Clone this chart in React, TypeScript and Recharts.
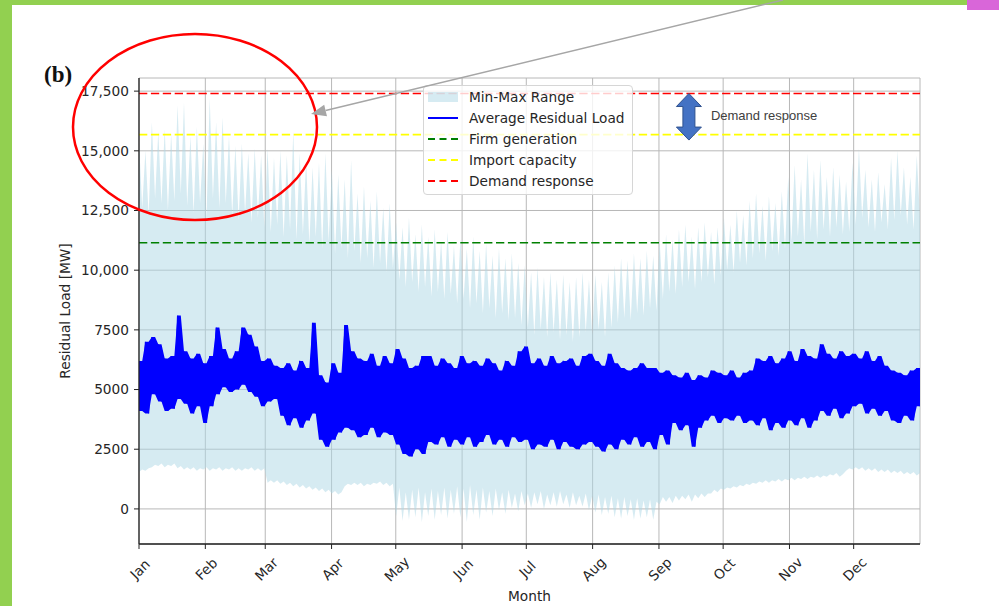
import React from 'react';
import {
  ComposedChart,
  Area,
  Line,
  XAxis,
  YAxis,
  CartesianGrid,
  ReferenceLine,
  Legend,
} from 'recharts';

// ---------- categories / ticks ----------
const MONTHS = ['Jan', 'Feb', 'Mar', 'Apr', 'May', 'Jun', 'Jul', 'Aug', 'Sep', 'Oct', 'Nov', 'Dec'];
const MONTH_START_DAYS = [0, 31, 59, 90, 120, 151, 181, 212, 243, 273, 304, 334];
const YEAR_DAYS = 365;
const Y_TICKS = [0, 2500, 5000, 7500, 10000, 12500, 15000, 17500];
const Y_TICK_LABELS = ['0', '2500', '5000', '7500', '10,000', '12,500', '15,000', '17,500'];
const Y_DOMAIN = [-1470, 18050];

// ---------- horizontal levels (MW) ----------
const FIRM_GENERATION = 11150;
const IMPORT_CAPACITY = 15680;
const DEMAND_RESPONSE = 17400;

// Demand response annotation arrow (day of year, MW)
const DR_ARROW_DAY = 257;
const DR_ARROW_TOP = 17400;
const DR_ARROW_BOTTOM = 15450;

// ---------- series, 3-day slots (122 slots) ----------
// upper envelope of the max series (spike tops)
const MAX_PEAK = [
  15400, 15000, 16200, 15800, 15900, 15700, 16900, 17000, 15600, 16000,
  15300, 17200, 16200, 16400, 15600, 15200, 15300, 14900, 15100, 14800,
  15100, 14700, 15000, 14800, 15800, 14900, 14600, 14300, 14500, 14900,
  14200, 14000, 13800, 14600, 13200, 13500, 12900, 13300, 12600, 12800,
  12000, 11800, 12200, 11500, 11900, 11400, 11700, 11200, 11600, 11000,
  11300, 10900, 11400, 10800, 11100, 10600, 10900, 10500, 10700, 10300,
  10200, 9900, 10100, 9700, 9900, 9600, 9800, 9500, 9700, 9900,
  9600, 9800, 9500, 9900, 10200, 10500, 10400, 10700, 10500, 10800,
  10600, 11200, 11500, 11300, 11700, 11900, 11400, 11800, 12000, 11600,
  11800, 12200, 11900, 12500, 12300, 12900, 13200, 12700, 13100, 12800,
  13300, 13900, 14400, 13800, 14900, 14200, 14600, 13900, 14300, 14000,
  13700, 14500, 15100, 14200, 13800, 14100, 13600, 14700, 15000, 14300,
  13900, 14800,
];
// lower (solid) level of the max series
const MAX_BASE = [
  12600, 12300, 13000, 12800, 12500, 12900, 13200, 12700, 12400, 12800,
  12200, 13000, 12600, 12800, 12300, 12100, 12400, 12000, 12200, 11800,
  11600, 11900, 11400, 11700, 11300, 11500, 11100, 11400, 10900, 11200,
  10700, 10900, 10500, 10800, 10300, 10500, 10100, 10300, 9900, 10100,
  9600, 9300, 9500, 9100, 9300, 8900, 9100, 8800, 9000, 8600,
  8800, 8400, 8600, 8200, 8400, 8000, 8200, 7900, 8000, 7700,
  7600, 7300, 7500, 7200, 7400, 7100, 7300, 7000, 7200, 7400,
  7300, 7500, 7200, 7600, 7800, 8000, 7900, 8200, 8100, 8400,
  8300, 8800, 9100, 9000, 9300, 9500, 9200, 9500, 9700, 9400,
  9800, 10000, 9900, 10300, 10200, 10500, 10700, 10400, 10800, 10600,
  10900, 11200, 11400, 11100, 11600, 11300, 11700, 11400, 11800, 11500,
  11600, 11900, 12200, 11800, 11600, 12000, 11700, 12100, 12300, 11900,
  11700, 12200,
];
// upper (solid) level of the min series
const MIN_MAIN = [
  1650, 1700, 1850, 1900, 1850, 1900, 1800, 1750, 1750, 1700,
  1750, 1700, 1750, 1700, 1750, 1700, 1700, 1750, 1700, 1700,
  1200, 1200, 1150, 1100, 1050, 1000, 950, 900, 850, 800,
  750, 700, 1050, 1100, 1100, 1050, 1100, 1150, 1100, 1050,
  900, 700, 800, 900, 700, 850, 750, 900, 800, 950,
  850, 1000, 800, 900, 750, 850, 700, 800, 650, 750,
  650, 700, 750, 600, 700, 750, 600, 700, 550, 650,
  550, 600, 500, 550, 450, 500, 400, 450, 350, 400,
  300, 500, 500, 550, 550, 600, 600, 650, 650, 800,
  850, 900, 950, 1000, 1050, 1100, 1150, 1200, 1200, 1250,
  1250, 1300, 1300, 1350, 1350, 1400, 1400, 1450, 1500, 1450,
  1700, 1750, 1750, 1700, 1700, 1650, 1650, 1600, 1600, 1550,
  1550, 1500,
];
// downward dips of the min series
const MIN_DIP = [
  1550, 1600, 1750, 1800, 1750, 1800, 1700, 1650, 1650, 1600,
  1650, 1600, 1650, 1600, 1650, 1600, 1600, 1650, 1600, 1600,
  1100, 1100, 1050, 1000, 950, 900, 850, 800, 750, 700,
  650, 600, 950, 1000, 1000, 950, 1000, 1050, 1000, 950,
  -300, -500, -450, -350, -550, -300, -450, -250, -400, -200,
  -350, -550, -250, -450, -150, -300, -50, -200, 50, -100,
  150, 50, 200, 0, 150, 100, 200, 50, 150, 100,
  -50, -150, -250, -200, -350, -400, -300, -450, -400, -350,
  -450, 200, 300, 250, 350, 400, 300, 450, 500, 650,
  700, 800, 850, 900, 950, 1000, 1050, 1100, 1100, 1150,
  1150, 1200, 1200, 1250, 1250, 1300, 1300, 1350, 1400, 1350,
  1600, 1650, 1650, 1600, 1600, 1550, 1550, 1500, 1500, 1450,
  1450, 1400,
];
// average residual load: highs and lows within each slot
const AVG_HI = [
  6200, 7000, 7200, 6900, 6300, 6400, 8100, 6600, 6300, 6500,
  6100, 6400, 7600, 6700, 6300, 6600, 7600, 7300, 6800, 6200,
  6300, 6000, 5900, 6100, 5800, 6200, 5900, 7800, 5600, 5300,
  6100, 5700, 7700, 6600, 6300, 6200, 6500, 6000, 6400, 6100,
  6700, 6300, 5900, 6000, 6400, 6400, 6000, 6300, 6100, 5900,
  6400, 6100, 6200, 6000, 6300, 6100, 5800, 6200, 6000, 6600,
  6800, 6100, 6300, 6000, 6400, 6100, 6200, 6300, 6000, 6400,
  6500, 6200, 6000, 6500, 6100, 5900, 5800, 5900, 6100, 5900,
  5900, 5700, 5800, 5600, 5500, 5700, 5400, 5600, 5500, 5800,
  5700, 5600, 5800, 5500, 5700, 5800, 6300, 6200, 6400, 6100,
  6300, 6600, 6200, 6700, 6400, 6300, 6900, 6500, 6300, 6600,
  6400, 6500, 6300, 6600, 6200, 6400, 6000, 5800, 5700, 5600,
  5800, 5900,
];
const AVG_LO = [
  4100, 4000, 4800, 4500, 4100, 4200, 4600, 4400, 4000, 4300,
  3600, 4300, 4800, 5100, 4900, 5000, 5200, 4900, 4700, 4300,
  4500, 4600, 3900, 3500, 3800, 3400, 3700, 4000, 2900, 2600,
  2900, 3200, 3400, 3300, 3000, 3100, 3400, 3000, 3200, 3100,
  2700, 2300, 2200, 2500, 2300, 2800, 2700, 3000, 2600, 2900,
  2700, 3000, 2600, 2800, 3100, 2700, 2900, 2600, 3000, 2800,
  2900, 2500, 2700, 2600, 2900, 2500, 2800, 2600, 2500, 2700,
  2800, 2600, 2400, 2700, 2500, 2900, 2700, 3000, 2600, 2800,
  2500, 3100, 2700, 3600, 3300, 3500, 2600, 3400, 3700, 3900,
  3600, 3800, 3700, 3900, 3600, 3700, 3500, 3800, 3300, 3600,
  3400, 3700, 3500, 3800, 3400, 3700, 4100, 3900, 4200, 3800,
  4000, 4300, 4400, 4000, 4200, 3900, 4100, 3700, 3600, 3900,
  3700, 4300,
];

// ---------- legend entries ----------
const LEGEND_ITEMS = [
  { label: 'Min-Max Range', kind: 'patch', color: '#add8e6' },
  { label: 'Average Residual Load', kind: 'line', color: '#0000ff' },
  { label: 'Firm generation', kind: 'dash', color: '#008000' },
  { label: 'Import capacity', kind: 'dash', color: '#ffff00' },
  { label: 'Demand response', kind: 'dash', color: '#ff0000' },
];

// ---------- table built from the arrays ----------
const TOTAL_POINTS = MAX_PEAK.length * 2;
const data: any[] = [];
for (let i = 0; i < MAX_PEAK.length; i++) {
  data.push({
    day: ((2 * i) * YEAR_DAYS) / (TOTAL_POINTS - 1),
    range: [MIN_DIP[i], MAX_PEAK[i]],
    avgBand: [AVG_LO[i], AVG_HI[i]],
    avg: AVG_HI[i],
  });
  data.push({
    day: ((2 * i + 1) * YEAR_DAYS) / (TOTAL_POINTS - 1),
    range: [MIN_MAIN[i], MAX_BASE[i]],
    avgBand: [AVG_LO[i], AVG_HI[i]],
    avg: AVG_LO[i],
  });
}

const FONT = 'DejaVu Sans';
const TEXT_COLOR = '#262626';

const MonthTick = (props: any) => {
  const { x, y, payload } = props;
  const idx = MONTH_START_DAYS.indexOf(payload.value);
  return (
    <g transform={`translate(${x + 1},${y + 18})`}>
      <text
        transform="rotate(-45)"
        textAnchor="middle"
        dominantBaseline="central"
        fontFamily={FONT}
        fontSize={13.7}
        fill={TEXT_COLOR}
      >
        {MONTHS[idx]}
      </text>
    </g>
  );
};

const YTitle = (props: any) => {
  const vb = props.viewBox || {};
  const cx = (vb.x || 0) + 65;
  const cy = (vb.y || 0) + (vb.height || 0) / 2;
  return (
    <text
      x={cx}
      y={cy}
      transform={`rotate(-90, ${cx}, ${cy})`}
      textAnchor="middle"
      dominantBaseline="central"
      fontFamily={FONT}
      fontSize={13.7}
      fill={TEXT_COLOR}
    >
      Residual Load [MW]
    </text>
  );
};

const XTitle = (props: any) => {
  const vb = props.viewBox || {};
  const cx = (vb.x || 0) + (vb.width || 0) / 2;
  const cy = (vb.y || 0) + 52;
  return (
    <text
      x={cx}
      y={cy}
      textAnchor="middle"
      dominantBaseline="central"
      fontFamily={FONT}
      fontSize={13.7}
      fill={TEXT_COLOR}
    >
      Month
    </text>
  );
};

const DemandArrow = (props: any) => {
  const { x1, y1, y2 } = props;
  const x = x1;
  const top = Math.min(y1, y2);
  const bot = Math.max(y1, y2);
  const hw = 12.5;
  const sw = 6;
  const hl = 13;
  const pts = [
    [x, top],
    [x + hw, top + hl],
    [x + sw, top + hl],
    [x + sw, bot - hl],
    [x + hw, bot - hl],
    [x, bot],
    [x - hw, bot - hl],
    [x - sw, bot - hl],
    [x - sw, top + hl],
    [x - hw, top + hl],
  ]
    .map((p) => p.join(','))
    .join(' ');
  return (
    <g>
      <polygon points={pts} fill="#4472c4" stroke="#2f528f" strokeWidth={1} />
      <text
        x={x + 22}
        y={(top + bot) / 2 - 1.5}
        dominantBaseline="central"
        fontFamily="Liberation Sans"
        fontSize={13}
        fill="#404040"
      >
        Demand response
      </text>
    </g>
  );
};

const LegendBox = () => (
  <div
    style={{
      boxSizing: 'border-box',
      width: 210,
      height: 110,
      background: 'rgba(255,255,255,0.8)',
      border: '1px solid #d6d6d6',
      borderRadius: 4,
      paddingTop: 1,
      paddingLeft: 4,
      fontFamily: FONT,
      fontSize: 13.7,
      color: TEXT_COLOR,
    }}
  >
    {LEGEND_ITEMS.map((it) => (
      <div key={it.label} style={{ height: 20.8, display: 'flex', alignItems: 'center', whiteSpace: 'nowrap' }}>
        <svg width={30} height={14} style={{ marginRight: 11, flex: 'none' }}>
          {it.kind === 'patch' && <rect x={0} y={2} width={30} height={10} fill={it.color} fillOpacity={0.5} />}
          {it.kind === 'line' && <line x1={0} x2={30} y1={7} y2={7} stroke={it.color} strokeWidth={2} />}
          {it.kind === 'dash' && (
            <line x1={0} x2={30} y1={7} y2={7} stroke={it.color} strokeWidth={2} strokeDasharray="7 4.5" />
          )}
        </svg>
        <span>{it.label}</span>
      </div>
    ))}
  </div>
);

// decoration helpers (page annotations)
const ARROW_START = [783, 0];
const ARROW_TIP = [311, 114];

export default function App() {
  const dx = ARROW_TIP[0] - ARROW_START[0];
  const dy = ARROW_TIP[1] - ARROW_START[1];
  const len = Math.sqrt(dx * dx + dy * dy);
  const ux = dx / len;
  const uy = dy / len;
  const headL = 15;
  const headW = 6;
  const bx = ARROW_TIP[0] - ux * headL;
  const by = ARROW_TIP[1] - uy * headL;
  const head = [
    [ARROW_TIP[0], ARROW_TIP[1]],
    [bx - uy * headW, by + ux * headW],
    [bx + uy * headW, by - ux * headW],
  ]
    .map((p) => p.join(','))
    .join(' ');

  return (
    <div style={{ position: 'absolute', left: 0, top: 0, width: 999, height: 606, background: '#ffffff', overflow: 'hidden' }}>
      <ComposedChart width={999} height={606} data={data} margin={{ top: 78, right: 79, bottom: 0, left: 0 }}>
        <CartesianGrid stroke="#b8b8b8" strokeWidth={1} />
        <XAxis
          dataKey="day"
          type="number"
          domain={[0, YEAR_DAYS]}
          allowDataOverflow
          ticks={MONTH_START_DAYS}
          interval={0}
          height={62}
          tick={<MonthTick />}
          tickSize={5}
          tickLine={{ stroke: '#222', strokeWidth: 1 }}
          axisLine={{ stroke: '#222', strokeWidth: 1.3 }}
          label={<XTitle />}
        />
        <XAxis
          xAxisId="top"
          orientation="top"
          type="number"
          domain={[0, YEAR_DAYS]}
          height={0}
          tick={false}
          tickLine={false}
          axisLine={{ stroke: '#222', strokeWidth: 1.3 }}
        />
        <YAxis
          type="number"
          domain={Y_DOMAIN}
          allowDataOverflow
          ticks={Y_TICKS}
          interval={0}
          width={139}
          tickSize={5}
          tickMargin={5}
          tickFormatter={(v: number) => Y_TICK_LABELS[Y_TICKS.indexOf(v)]}
          tick={{ fill: TEXT_COLOR, fontSize: 13.7, fontFamily: FONT }}
          tickLine={{ stroke: '#222', strokeWidth: 1 }}
          axisLine={{ stroke: '#222', strokeWidth: 1.3 }}
          label={<YTitle />}
        />
        <YAxis
          yAxisId="right"
          orientation="right"
          type="number"
          domain={Y_DOMAIN}
          width={0}
          tick={false}
          tickLine={false}
          axisLine={{ stroke: '#222', strokeWidth: 1.3 }}
        />
        <Area
          dataKey="range"
          type="linear"
          stroke="none"
          fill="#add8e6"
          fillOpacity={0.5}
          isAnimationActive={false}
          legendType="none"
        />
        <Area
          dataKey="avgBand"
          type="linear"
          stroke="none"
          fill="#0000ff"
          fillOpacity={1}
          isAnimationActive={false}
          legendType="none"
        />
        <Line
          dataKey="avg"
          type="linear"
          stroke="#0000ff"
          strokeWidth={1.2}
          dot={false}
          isAnimationActive={false}
          legendType="none"
        />
        <ReferenceLine y={FIRM_GENERATION} stroke="#008000" strokeWidth={1.6} strokeDasharray="8.3 3.6" />
        <ReferenceLine y={IMPORT_CAPACITY} stroke="#ffff00" strokeWidth={1.6} strokeDasharray="8.3 3.6" />
        <ReferenceLine y={DEMAND_RESPONSE} stroke="#ff0000" strokeWidth={1.6} strokeDasharray="8.3 3.6" />
        <ReferenceLine
          segment={[
            { x: DR_ARROW_DAY, y: DR_ARROW_TOP },
            { x: DR_ARROW_DAY, y: DR_ARROW_BOTTOM },
          ]}
          ifOverflow="visible"
          shape={DemandArrow}
        />
        <Legend
          layout="horizontal"
          verticalAlign="middle"
          align="center"
          content={() => <LegendBox />}
          wrapperStyle={{ position: 'absolute', left: 423, top: 85, width: 210, height: 110 }}
        />
      </ComposedChart>
      <svg
        width={999}
        height={606}
        style={{ position: 'absolute', left: 0, top: 0, pointerEvents: 'none' }}
      >
        <rect x={0} y={0} width={12} height={606} fill="#92d050" />
        <rect x={0} y={0} width={967} height={5} fill="#92d050" />
        <rect x={967} y={0} width={32} height={10} fill="#d966d9" />
        <text x={44} y={82} fontFamily="Liberation Serif" fontWeight="bold" fontSize={23} fill="#111">
          (b)
        </text>
        <ellipse cx={195} cy={127} rx={122} ry={93} fill="none" stroke="#ff0000" strokeWidth={2.5} />
        <line x1={ARROW_START[0]} y1={ARROW_START[1]} x2={bx} y2={by} stroke="#a6a6a6" strokeWidth={1.5} />
        <polygon points={head} fill="#a6a6a6" />
      </svg>
    </div>
  );
}
